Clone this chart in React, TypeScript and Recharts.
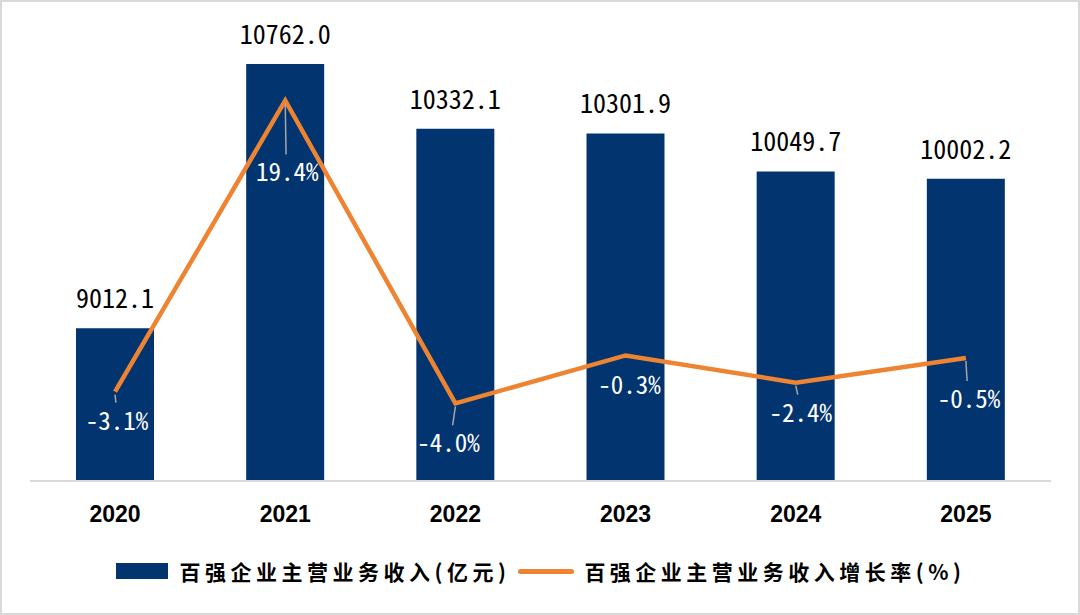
import React from "react";
import { ComposedChart, Bar, Line, XAxis, YAxis, LabelList, Legend } from "recharts";

const years = ["2020", "2021", "2022", "2023", "2024", "2025"];
const revenue = [9012.1, 10762.0, 10332.1, 10301.9, 10049.7, 10002.2];
const growth = [-3.1, 19.4, -4.0, -0.3, -2.4, -0.5];

// label nudges for the growth-rate labels (dx, dy from the point), as placed in the original
const growthLabelNudge = [
  [2, 30],
  [2, 73],
  [-7, 41],
  [4, 31],
  [5, 31],
  [3, 42],
];
const growthLeader = [true, true, true, false, true, true];

const BAR_NAME = "百强企业主营业务收入(亿元)";
const LINE_NAME = "百强企业主营业务收入增长率(%)";

const BAR_COLOR = "#02346F";
const LINE_COLOR = "#EE8432";
const NUM_FONT = "'Noto Sans Mono CJK SC', 'DejaVu Sans Mono', monospace";
const CJK_FONT = "'Noto Sans CJK SC', sans-serif";

const data = years.map((year, i) => ({ year, revenue: revenue[i], growth: growth[i] }));

const BarValueLabel = (props: any) => {
  const { x, y, width, value } = props;
  return (
    <text
      x={x + width / 2}
      y={y - 20}
      textAnchor="middle"
      fill="#000"
      fontFamily={NUM_FONT}
      fontSize={26}
    >
      {value.toFixed(1)}
    </text>
  );
};

const GrowthLabel = (props: any) => {
  const { x, y, value, index } = props;
  const [dx, dy] = growthLabelNudge[index];
  const cx = x + dx;
  const cy = y + dy;
  return (
    <g>
      {growthLeader[index] && (
        <line x1={x} y1={y + 3} x2={x + dx * 0.4} y2={cy - 19} stroke="#A6A6A6" strokeWidth={1.5} />
      )}
      <text
        x={cx}
        y={cy + 8}
        textAnchor="middle"
        fill="#fff"
        fontFamily={NUM_FONT}
        fontSize={25}
      >
        {value.toFixed(1)}%
      </text>
    </g>
  );
};

const LegendBox = () => (
  <div
    style={{
      display: "flex",
      justifyContent: "center",
      alignItems: "center",
      height: 50,
      fontFamily: CJK_FONT,
      fontSize: 21,
      fontWeight: 700,
      letterSpacing: 4.5,
      color: "#000",
    }}
  >
    <span style={{ display: "inline-block", width: 52, height: 16, background: BAR_COLOR, marginRight: 12 }} />
    <span style={{ marginRight: 8 }}>{BAR_NAME}</span>
    <span
      style={{ display: "inline-block", width: 56, height: 5, borderRadius: 3, background: LINE_COLOR, marginRight: 10 }}
    />
    <span>{LINE_NAME}</span>
  </div>
);

export default function App() {
  return (
    <div
      style={{
        width: 1080,
        height: 615,
        boxSizing: "border-box",
        border: "2px solid #D9D9D9",
        background: "#fff",
      }}
    >
      <style>{"body{margin:0}"}</style>
      <ComposedChart
        width={1076}
        height={611}
        data={data}
        margin={{ top: 26, right: 27, bottom: 17, left: 28 }}
        barSize={78}
      >
        <XAxis
          dataKey="year"
          axisLine={{ stroke: "#D9D9D9", strokeWidth: 2 }}
          tickLine={false}
          height={65}
          tickMargin={19}
          tick={{ fill: "#000", fontSize: 23, fontWeight: 700, fontFamily: "'Liberation Sans', Arial, sans-serif" }}
        />
        <YAxis yAxisId="left" domain={[8000, 11000]} hide />
        <YAxis yAxisId="right" orientation="right" domain={[-10, 25]} hide />
        <Legend verticalAlign="bottom" height={50} content={() => <LegendBox />} />
        <Bar yAxisId="left" dataKey="revenue" name={BAR_NAME} fill={BAR_COLOR} isAnimationActive={false}>
          <LabelList dataKey="revenue" content={BarValueLabel} />
        </Bar>
        <Line
          yAxisId="right"
          type="linear"
          dataKey="growth"
          name={LINE_NAME}
          stroke={LINE_COLOR}
          strokeWidth={4.5}
          dot={false}
          activeDot={false}
          isAnimationActive={false}
        >
          <LabelList dataKey="growth" content={GrowthLabel} />
        </Line>
      </ComposedChart>
    </div>
  );
}
